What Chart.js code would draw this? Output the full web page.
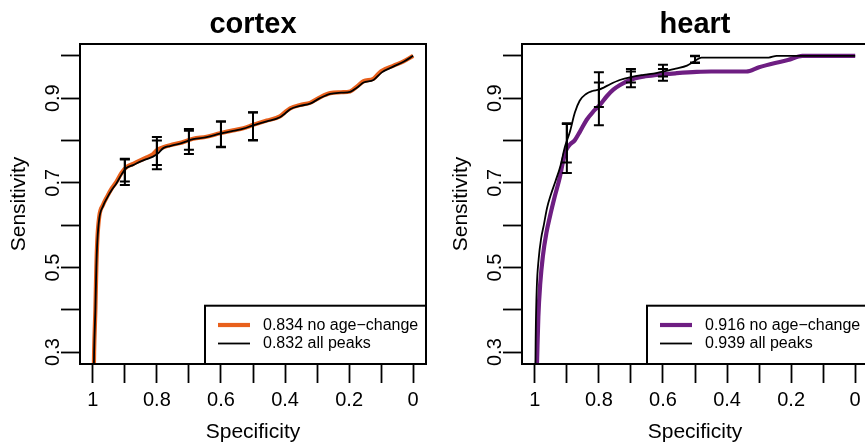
<!DOCTYPE html>
<html>
<head>
<meta charset="utf-8">
<script src="https://cdn.jsdelivr.net/npm/chart.js@4/dist/chart.umd.min.js"></script>
<style>
  html, body { margin: 0; padding: 0; background: #fff; }
  #wrap { position: relative; width: 865px; height: 446px; overflow: hidden; background: #fff; }
  .panel { position: absolute; top: 0; width: 432px; height: 446px; }
  #p1 { left: 0; }
  #p2 { left: 442px; }
</style>
</head>
<body>
<div id="wrap">
  <div class="panel" id="p1"><canvas id="cortexChart" width="432" height="446"></canvas></div>
  <div class="panel" id="p2"><canvas id="heartChart" width="432" height="446"></canvas></div>
</div>
<script>
// ---- Axis ticks ----
const specTicks = [1, 0.9, 0.8, 0.7, 0.6, 0.5, 0.4, 0.3, 0.2, 0.1, 0];
const specTickLabels = ['1', '', '0.8', '', '0.6', '', '0.4', '', '0.2', '', '0'];
const sensTicks = [0.3, 0.4, 0.5, 0.6, 0.7, 0.8, 0.9, 1.0];
const sensTickLabels = ['0.3', '', '0.5', '', '0.7', '', '0.9', ''];

// ---- cortex: ROC curves (specificity, sensitivity) ----
const cortexAllSpec = [1.0, 0.998, 0.996, 0.992, 0.989, 0.986, 0.98, 0.968, 0.955, 0.94, 0.926, 0.91, 0.895, 0.874, 0.852, 0.832, 0.812, 0.796, 0.78, 0.759, 0.723, 0.687, 0.645, 0.603, 0.562, 0.53, 0.499, 0.457, 0.416, 0.4, 0.384, 0.353, 0.322, 0.291, 0.259, 0.225, 0.197, 0.175, 0.155, 0.124, 0.098, 0.061, 0.03, 0.0];
const cortexAllSens = [0.0, 0.2, 0.3, 0.4, 0.5, 0.56, 0.615, 0.645, 0.665, 0.684, 0.699, 0.72, 0.735, 0.742, 0.75, 0.756, 0.762, 0.77, 0.782, 0.787, 0.794, 0.803, 0.808, 0.816, 0.823, 0.828, 0.836, 0.845, 0.855, 0.864, 0.874, 0.882, 0.887, 0.9, 0.91, 0.913, 0.915, 0.925, 0.937, 0.943, 0.961, 0.975, 0.986, 1.0];
const cortexNoAgeSpec = [1.0, 0.998, 0.996, 0.992, 0.989, 0.986, 0.98, 0.968, 0.955, 0.94, 0.926, 0.91, 0.895, 0.874, 0.852, 0.832, 0.812, 0.8, 0.78, 0.759, 0.723, 0.687, 0.645, 0.603, 0.562, 0.53, 0.499, 0.457, 0.416, 0.4, 0.384, 0.353, 0.322, 0.291, 0.259, 0.225, 0.197, 0.175, 0.155, 0.124, 0.1, 0.061, 0.03, 0.0];
const cortexNoAgeSens = [0.0, 0.2, 0.3, 0.4, 0.5, 0.565, 0.62, 0.648, 0.668, 0.688, 0.703, 0.724, 0.737, 0.745, 0.753, 0.76, 0.768, 0.777, 0.784, 0.789, 0.795, 0.804, 0.809, 0.817, 0.824, 0.829, 0.837, 0.847, 0.857, 0.867, 0.876, 0.884, 0.889, 0.902, 0.912, 0.914, 0.916, 0.928, 0.94, 0.946, 0.964, 0.977, 0.987, 1.0];

// ---- heart: ROC curves (specificity, sensitivity) ----
const heartAllSpec = [1.0, 0.999, 0.997, 0.994, 0.988, 0.98, 0.972, 0.962, 0.95, 0.935, 0.92, 0.906, 0.89, 0.875, 0.86, 0.84, 0.82, 0.8, 0.785, 0.765, 0.735, 0.7, 0.66, 0.63, 0.6, 0.56, 0.525, 0.5, 0.48, 0.27, 0.245, 0.0];
const heartAllSens = [0.0, 0.2, 0.35, 0.45, 0.52, 0.57, 0.6, 0.64, 0.672, 0.705, 0.74, 0.785, 0.822, 0.866, 0.894, 0.91, 0.917, 0.92, 0.925, 0.933, 0.943, 0.95, 0.955, 0.958, 0.963, 0.97, 0.977, 0.988, 0.996, 0.996, 1.0, 1.0];
const heartNoAgeSpec = [1.0, 0.996, 0.993, 0.989, 0.983, 0.975, 0.964, 0.953, 0.938, 0.922, 0.911, 0.903, 0.891, 0.875, 0.859, 0.838, 0.818, 0.797, 0.776, 0.755, 0.734, 0.703, 0.661, 0.62, 0.557, 0.495, 0.45, 0.34, 0.3, 0.25, 0.21, 0.165, 0.0];
const heartNoAgeSens = [0.0, 0.2, 0.28, 0.384, 0.463, 0.526, 0.581, 0.62, 0.667, 0.713, 0.754, 0.776, 0.79, 0.801, 0.821, 0.849, 0.868, 0.884, 0.904, 0.92, 0.931, 0.943, 0.951, 0.955, 0.959, 0.962, 0.963, 0.963, 0.973, 0.983, 0.99, 1.0, 1.0];

// ---- confidence intervals of sensitivity at fixed specificities ----
const cortexCiSpec = [0.9, 0.9, 0.8, 0.8, 0.7, 0.7, 0.6, 0.6, 0.5, 0.5];
const cortexCiLow  = [0.695, 0.703, 0.732, 0.742, 0.768, 0.778, 0.784, 0.785, 0.800, 0.801];
const cortexCiHigh = [0.757, 0.755, 0.808, 0.800, 0.827, 0.823, 0.845, 0.845, 0.867, 0.866];
const heartCiSpec = [0.9, 0.9, 0.8, 0.8, 0.7, 0.7, 0.6, 0.6, 0.5, 0.5];
const heartCiLow  = [0.723, 0.748, 0.836, 0.879, 0.926, 0.937, 0.941, 0.951, 0.983, 0.984];
const heartCiHigh = [0.841, 0.839, 0.961, 0.937, 0.969, 0.963, 0.979, 0.969, 1.0, 0.999];

// ---- legend labels ----
const cortexLabels = ['0.834 no age\u2212change', '0.832 all peaks'];
const heartLabels = ['0.916 no age\u2212change', '0.939 all peaks'];

const FONT = "'Liberation Sans', Arial, Helvetica, sans-serif";
const ORANGE = '#E8601C';
const PURPLE = '#6E1E82';

function zipXY(xs, ys) {
  return xs.map((x, i) => ({ x: x, y: ys[i] }));
}

// Plot frame, bottom-right legend box and CI whiskers
const decorPlugin = {
  id: 'decor',
  afterDatasetsDraw(chart, args, opts) {
    const ctx = chart.ctx;
    const a = chart.chartArea;
    const xs = chart.scales.x, ys = chart.scales.y;
    ctx.save();
    // confidence-interval whiskers
    ctx.strokeStyle = '#000';
    ctx.lineWidth = 2;
    ctx.lineCap = 'butt';
    const cap = 5;
    opts.ciSpec.forEach((s, i) => {
      const px = xs.getPixelForValue(s);
      const y1 = ys.getPixelForValue(opts.ciLow[i]);
      const y2 = ys.getPixelForValue(opts.ciHigh[i]);
      ctx.beginPath();
      ctx.moveTo(px, y1); ctx.lineTo(px, y2);
      ctx.moveTo(px - cap, y1); ctx.lineTo(px + cap, y1);
      ctx.moveTo(px - cap, y2); ctx.lineTo(px + cap, y2);
      ctx.stroke();
    });
    // legend box
    const lx = a.right - 221, ly = 305.7;
    ctx.fillStyle = '#fff';
    ctx.fillRect(lx, ly, a.right - lx, a.bottom - ly);
    ctx.lineWidth = 2;
    ctx.strokeStyle = '#000';
    ctx.strokeRect(lx, ly, a.right - lx, a.bottom - ly);
    const ds = chart.data.datasets;
    const rows = [325, 343.5];
    ctx.font = '16px ' + FONT;
    ctx.textBaseline = 'middle';
    ctx.textAlign = 'left';
    ds.slice().sort((p, q) => p.legendRank - q.legendRank).forEach((d, i) => {
      ctx.beginPath();
      ctx.strokeStyle = d.borderColor;
      ctx.lineWidth = d.legendWidth;
      ctx.moveTo(lx + 13, rows[i]);
      ctx.lineTo(lx + 45, rows[i]);
      ctx.stroke();
      ctx.fillStyle = '#000';
      ctx.fillText(d.label, lx + 58, rows[i] + 0.5);
    });
    // plot frame
    ctx.lineWidth = 2;
    ctx.strokeStyle = '#000';
    ctx.strokeRect(a.left, a.top, a.right - a.left, a.bottom - a.top);
    ctx.restore();
  }
};

function makeChart(canvasId, title, colour, colouredSpec, colouredSens, allSpec, allSens, labels, ciSpec, ciLow, ciHigh) {
  return new Chart(document.getElementById(canvasId), {
    type: 'scatter',
    data: {
      datasets: [
        {
          label: labels[1],
          data: zipXY(allSpec, allSens),
          showLine: true,
          borderColor: '#000',
          borderWidth: 1.8,
          pointRadius: 0,
          cubicInterpolationMode: 'monotone',
          order: 0,
          legendRank: 1,
          legendWidth: 1.8
        },
        {
          label: labels[0],
          data: zipXY(colouredSpec, colouredSens),
          showLine: true,
          borderColor: colour,
          borderWidth: 4.2,
          pointRadius: 0,
          cubicInterpolationMode: 'monotone',
          order: 1,
          legendRank: 0,
          legendWidth: 4.2
        }
      ]
    },
    options: {
      responsive: false,
      animation: false,
      events: [],
      layout: { padding: { left: 0, right: 6, top: 0, bottom: 0 } },
      plugins: {
        legend: { display: false },
        tooltip: { enabled: false },
        title: {
          display: true,
          text: title,
          fullSize: false,
          color: '#000',
          font: { family: FONT, size: 29, weight: 'bold' },
          padding: { top: 7.6, bottom: 1.6 }
        },
        decor: { ciSpec: ciSpec, ciLow: ciLow, ciHigh: ciHigh }
      },
      scales: {
        x: {
          type: 'linear',
          reverse: true,
          min: -0.04,
          max: 1.04,
          afterBuildTicks: (s) => { s.ticks = specTicks.map(v => ({ value: v })); },
          afterFit: (s) => { s.height = 82; },
          ticks: {
            autoSkip: false,
            maxRotation: 0,
            padding: 5,
            color: '#000',
            font: { family: FONT, size: 20 },
            callback: (v) => { const i = specTicks.findIndex(t => Math.abs(t - v) < 1e-9); return i >= 0 ? specTickLabels[i] : ''; }
          },
          grid: { drawOnChartArea: false, drawTicks: true, tickLength: 19, tickWidth: 1.8, tickColor: '#000' },
          border: { display: false },
          title: {
            display: true,
            text: 'Specificity',
            color: '#000',
            font: { family: FONT, size: 21 },
            padding: { top: 0, bottom: 1 }
          }
        },
        y: {
          type: 'linear',
          min: 0.272,
          max: 1.028,
          afterBuildTicks: (s) => { s.ticks = sensTicks.map(v => ({ value: v })); },
          afterFit: (s) => { s.width = 80; },
          ticks: {
            autoSkip: false,
            minRotation: 90,
            maxRotation: 90,
            crossAlign: 'center',
            padding: -6.5,
            color: '#000',
            font: { family: FONT, size: 20 },
            callback: (v) => { const i = sensTicks.findIndex(t => Math.abs(t - v) < 1e-9); return i >= 0 ? sensTickLabels[i] : ''; }
          },
          grid: { drawOnChartArea: false, drawTicks: true, tickLength: 19, tickWidth: 1.8, tickColor: '#000' },
          border: { display: false },
          title: {
            display: true,
            text: 'Sensitivity',
            color: '#000',
            font: { family: FONT, size: 21 },
            padding: { top: 6.5, bottom: 0 }
          }
        }
      }
    },
    plugins: [decorPlugin]
  });
}

makeChart('cortexChart', 'cortex', ORANGE, cortexNoAgeSpec, cortexNoAgeSens, cortexAllSpec, cortexAllSens, cortexLabels, cortexCiSpec, cortexCiLow, cortexCiHigh);
makeChart('heartChart', 'heart', PURPLE, heartNoAgeSpec, heartNoAgeSens, heartAllSpec, heartAllSens, heartLabels, heartCiSpec, heartCiLow, heartCiHigh);
</script>
</body>
</html>
